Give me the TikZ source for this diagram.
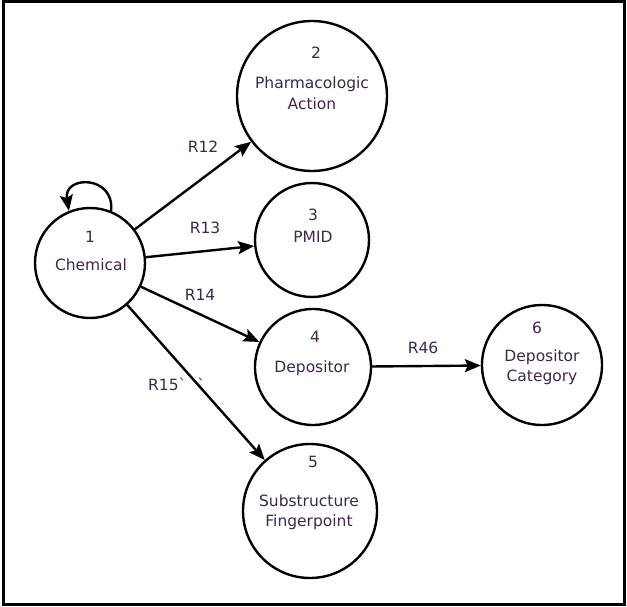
\documentclass[tikz,border=0pt]{standalone}
\usepackage{fontspec}
\setmainfont{DejaVu Sans}
\usetikzlibrary{arrows.meta,calc}
\definecolor{txtc}{RGB}{62,40,72}
\tikzset{
  ent/.style={circle,draw=black,line width=2.4pt,inner sep=0pt},
  txt/.style={text=txtc,font=\fontsize{15.5}{20.5}\selectfont,inner sep=0pt,align=center},
  rel/.style={draw=black,line width=2.4pt,-{Stealth[length=16pt,width=13pt,inset=3pt]}},
}
\begin{document}
\begin{tikzpicture}[x=1pt,y=-1pt]
\useasboundingbox (0,0) rectangle (627,607);
\draw[line width=3pt] (3,2) rectangle (624,604);
% circles
\node[ent,minimum size=110pt] (n1) at (90,263) {};
\node[ent,minimum size=150pt] (n2) at (312,96) {};
\node[ent,minimum size=114pt] (n3) at (312,240) {};
\node[ent,minimum size=116pt] (n4) at (313,367) {};
\node[ent,minimum size=134pt] (n5) at (310,511) {};
\node[ent,minimum size=120pt] (n6) at (542,365) {};
% texts
\node[txt] (k1) at (90,237) {1};
\node[txt] (l1) at (91,265) {Chemical};
\node[txt] (k2) at (316,53) {2};
\node[txt] (l2) at (312,93) {Pharmacologic\\Action};
\node[txt] (k3) at (313,215) {3};
\node[txt] (l3) at (313,237) {PMID};
\node[txt] (k4) at (315,337) {4};
\node[txt] (l4) at (312,368) {Depositor};
\node[txt] (k6) at (537,328) {6};
\node[txt] (l6) at (542,367) {Depositor\\Category};
\node[txt] (k5) at (313,462) {5};
\node[txt] (l5) at (309,512) {Substructure\\Fingerpoint};
% relations
\draw[rel] (n1) -- (n2);
\draw[rel] (n1) -- (n3);
\draw[rel] (n1) -- (n4);
\draw[rel] (n1) -- (n5);
\draw[rel] (n4) -- (n6);
\draw[rel] (n1.68) .. controls ($(n1.68)+(4,-36)$) and ($(n1.112)+(-6,-36)$) .. (n1.112);
% labels
\node[txt] (r12) at (203,147) {R12};
\node[txt] (r13) at (205,228) {R13};
\node[txt] (r14) at (200,295) {R14};
\node[txt,anchor=west] (r15) at (148,384) {R15\textasciigrave\hspace{11pt}\textasciigrave};
\node[txt] (r46) at (423,348) {R46};
\end{tikzpicture}
\end{document}
